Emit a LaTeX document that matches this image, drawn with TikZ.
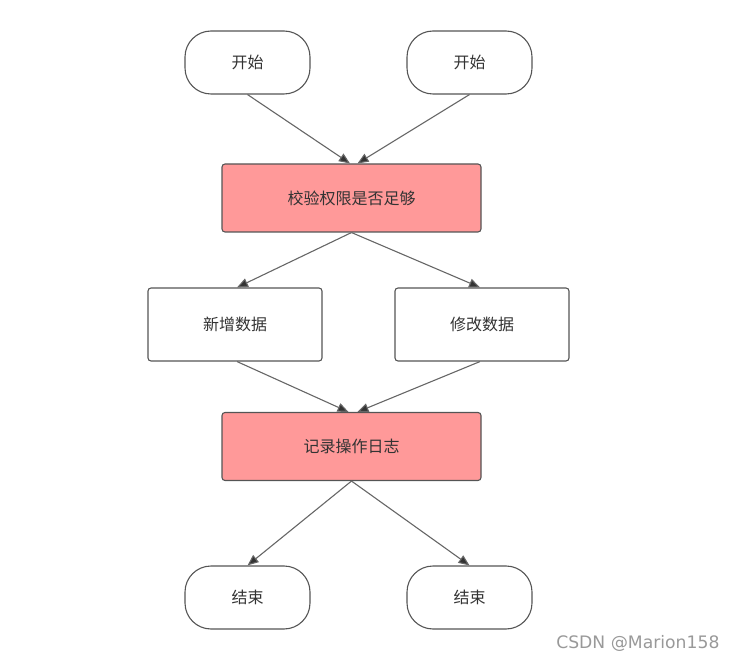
\documentclass[tikz,border=0pt]{standalone}
\usepackage{fontspec}
\newfontfamily\cjk{Noto Sans CJK SC}
\setmainfont{DejaVu Sans}
\usetikzlibrary{arrows.meta}
\definecolor{pinkfill}{HTML}{FF9999}
\definecolor{edgegrey}{HTML}{555555}
\definecolor{txt}{HTML}{333333}
\definecolor{linegrey}{HTML}{666666}
\begin{document}
\begin{tikzpicture}[x=1pt,y=-1pt,
  term/.style={draw=edgegrey,line width=1.1pt,fill=white,rounded corners=26pt,minimum width=125pt,minimum height=63pt,inner sep=0pt,font=\cjk\fontsize{16}{18}\selectfont,text=txt},
  proc/.style={draw=edgegrey,line width=1.1pt,fill=white,rounded corners=3pt,minimum width=174pt,minimum height=73pt,inner sep=0pt,font=\cjk\fontsize{16}{18}\selectfont,text=txt},
  hot/.style={draw=edgegrey,line width=1.1pt,fill=pinkfill,rounded corners=3pt,minimum width=259pt,minimum height=68pt,inner sep=0pt,font=\cjk\fontsize{16}{18}\selectfont,text=txt},
  conn/.style={draw=linegrey,line width=1.1pt,-{Triangle[length=11pt,width=9pt,fill=txt]}}
]
\useasboundingbox (0,0) rectangle (739,660);
\node[term] (s1) at (247.5,62.5) {开始};
\node[term] (s2) at (469.5,62.5) {开始};
\node[hot] (chk) at (351.5,198) {校验权限是否足够};
\node[proc] (nd) at (235,324.5) {新增数据};
\node[proc] (md) at (482,324.5) {修改数据};
\node[hot] (log) at (351.5,446.5) {记录操作日志};
\node[term] (e1) at (247.5,597.5) {结束};
\node[term] (e2) at (469.5,597.5) {结束};
\node[text=black!40,font=\fontsize{17.2}{19}\selectfont,anchor=east] (wm) at (723,643) {CSDN @Marion158};
\draw[conn] (s1.south) -- ([xshift=-1.5pt]chk.north);
\draw[conn] (s2.south) -- ([xshift=6pt]chk.north);
\draw[conn] (chk.south) -- ([xshift=2pt]nd.north);
\draw[conn] (chk.south) -- ([xshift=-2pt]md.north);
\draw[conn] ([xshift=2pt]nd.south) -- ([xshift=-3pt]log.north);
\draw[conn] ([xshift=-2pt]md.south) -- ([xshift=6pt]log.north);
\draw[conn] (log.south) -- (e1.north);
\draw[conn] (log.south) -- (e2.north);
\end{tikzpicture}
\end{document}
